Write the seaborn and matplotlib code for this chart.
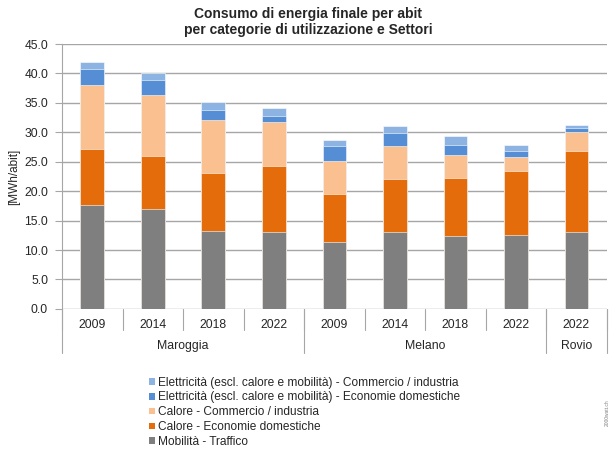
import numpy as np
import pandas as pd
import seaborn as sns
import matplotlib
matplotlib.use("Agg")
from matplotlib import pyplot as plt
from matplotlib.patches import Patch

sns.set_style("white")
plt.rcParams['font.family'] = ['Liberation Sans', 'DejaVu Sans']

# data (MWh per inhabitant)
places = ["Maroggia"] * 4 + ["Melano"] * 4 + ["Rovio"]
years = ["2009", "2014", "2018", "2022", "2009", "2014", "2018", "2022", "2022"]
mobility = [17.6, 16.9, 13.2, 13.1, 11.3, 13.0, 12.4, 12.5, 13.0]
heat_home = [9.6, 9.1, 9.9, 11.2, 8.2, 9.1, 9.8, 11.0, 13.9]
heat_biz = [10.9, 10.3, 9.0, 7.5, 5.7, 5.6, 4.0, 2.3, 3.1]
elec_home = [2.7, 2.6, 1.7, 1.0, 2.4, 2.2, 1.7, 1.1, 0.7]
elec_biz = [1.1, 1.1, 1.3, 1.4, 1.1, 1.2, 1.5, 0.9, 0.6]

series_names = [
    "Mobilità - Traffico",
    "Calore - Economie domestiche",
    "Calore - Commercio / industria",
    "Elettricità (escl. calore e mobilità) - Economie domestiche",
    "Elettricità (escl. calore e mobilità) - Commercio / industria",
]
colors = ["#7f7f7f", "#e46c0a", "#fac090", "#558ed5", "#8db3e2"]

df = pd.DataFrame({
    "cat": [p + " " + y for p, y in zip(places, years)],
    "s0": mobility, "s1": heat_home, "s2": heat_biz, "s3": elec_home, "s4": elec_biz,
})
order = list(df["cat"])
cols = ["s0", "s1", "s2", "s3", "s4"]
cum = df[cols].cumsum(axis=1)

fig = plt.figure(figsize=(6.1, 4.49), dpi=100)
ax = fig.add_axes([0.1016, 0.312, 0.893, 0.59])

# draw cumulative totals from the top down so each stack segment shows
for i in reversed(range(5)):
    sns.barplot(x=df["cat"], y=cum[cols[i]], order=order, color=colors[i],
                width=0.39, saturation=1, ax=ax, edgecolor="white", linewidth=0.4)

ax.set_ylim(0, 45)
ax.set_xlim(-0.5, 8.5)
ax.set_yticks(np.arange(0, 46, 5))
ax.set_yticklabels([f"{v:.1f}" for v in np.arange(0, 46, 5)], fontsize=8.7)
ax.yaxis.grid(True, color="#a6a6a6", linewidth=1)
ax.set_axisbelow(True)
for s in ["top", "right", "bottom"]:
    ax.spines[s].set_visible(False)
ax.spines["left"].set_color("#a6a6a6")
ax.tick_params(axis="y", length=5, color="#a6a6a6", pad=5, direction="out", left=True)
ax.set_ylabel("[MWh/abit]", fontsize=8.5)
ax.yaxis.set_label_coords(-0.077, 0.5)
ax.set_xlabel("")

# x axis: years then places
ax.set_xticks(range(9))
ax.set_xticklabels(years, fontsize=8.8)
ax.tick_params(axis="x", length=0, pad=7)
trans = ax.get_xaxis_transform()
for k in range(10):
    ax.plot([k - 0.5, k - 0.5], [0, -0.08], transform=trans, color="#a6a6a6",
            linewidth=0.8, clip_on=False)
groups = [("Maroggia", 0, 3), ("Melano", 4, 7), ("Rovio", 8, 8)]
for name, a, b in groups:
    ax.text((a + b) / 2, -0.14, name, transform=trans, ha="center", va="center", fontsize=8.8)
for edge in [-0.5, 3.5, 7.5, 8.5]:
    ax.plot([edge, edge], [0, -0.165], transform=trans, color="#a6a6a6",
            linewidth=0.8, clip_on=False)

fig.text(0.505, 0.985, "Consumo di energia finale per abit\nper categorie di utilizzazione e Settori",
         ha="center", va="top", fontsize=10, fontweight="bold", linespacing=1.2)

handles = [Patch(facecolor=colors[i], edgecolor="none", label=series_names[i]) for i in reversed(range(5))]
fig.legend(handles=handles, loc="upper left", bbox_to_anchor=(0.237, 0.172), frameon=False,
           fontsize=8.6, handlelength=0.5, handleheight=0.5, handletextpad=0.25,
           labelspacing=0.24, borderaxespad=0)

fig.text(0.995, 0.08, "2000watt.ch", rotation=90, fontsize=3.5, color="#808080",
         ha="center", va="center")

fig.savefig("out.png", dpi=100)
